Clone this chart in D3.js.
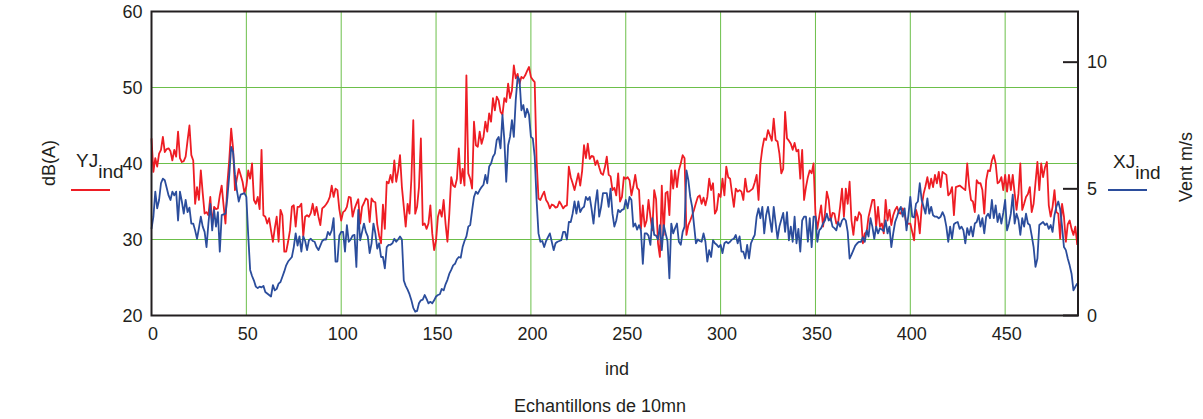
<!DOCTYPE html>
<html>
<head>
<meta charset="utf-8">
<script src="https://cdn.jsdelivr.net/npm/d3@7"></script>
<style>
  body { margin: 0; background: #fff; }
  svg { display: block; }
  text { font-family: "Liberation Sans", Arial, Helvetica, sans-serif; fill: #231f20; }
</style>
</head>
<body>
<svg id="chart" width="1203" height="419"></svg>
<script>
// Noise level per 10-minute sample, dB(A) (left axis)
const noiseLevel = [
  43.3,38.9,40.7,39.6,41.3,41.8,43.5,41.5,41.9,42.0,
  41.6,40.4,41.8,40.9,44.2,40.7,40.2,40.3,40.9,43.0,
  45.0,41.1,40.4,34.7,36.9,35.2,39.1,36.1,33.4,33.6,
  33.2,35.6,31.9,34.3,34.0,34.1,35.8,37.1,34.5,32.1,
  37.4,40.5,44.6,42.0,36.5,38.0,39.3,38.5,37.6,36.1,
  37.0,39.1,38.0,40.0,35.2,34.7,35.6,34.0,41.8,33.2,
  33.0,32.1,32.8,31.2,29.7,31.5,33.0,29.7,33.9,33.2,
  28.4,28.4,29.7,31.2,34.3,34.5,31.7,34.3,34.3,34.7,
  30.4,33.0,33.2,33.0,33.5,34.7,33.2,34.3,33.0,31.9,
  34.1,34.3,34.6,35.0,35.6,37.1,35.6,36.7,36.5,34.0,
  32.5,33.6,33.8,34.3,35.6,35.5,33.0,34.0,34.7,35.3,
  32.1,34.3,34.8,35.4,35.2,32.3,35.4,35.0,34.9,32.0,
  30.5,29.5,34.6,31.4,37.6,37.4,38.5,37.5,40.4,37.6,
  39.0,41.1,36.9,34.3,31.7,34.7,33.4,38.0,45.7,33.4,
  34.3,36.9,43.3,31.9,32.1,31.4,32.1,34.5,30.8,28.6,
  29.9,33.0,33.9,33.0,35.2,32.1,29.7,33.4,38.2,37.1,
  36.9,38.0,42.0,37.4,39.3,37.1,51.6,38.7,38.0,36.7,
  45.5,42.4,42.2,44.2,42.6,43.5,45.5,44.2,46.6,45.5,
  48.6,47.0,48.8,48.3,46.8,46.4,48.6,48.1,50.5,48.6,
  49.6,52.9,51.2,51.8,50.5,51.4,51.2,51.6,52.2,52.7,
  51.4,51.0,50.7,40.4,35.4,35.2,35.8,36.3,35.2,34.8,
  34.1,34.6,34.5,34.2,34.3,35.0,34.6,34.1,34.4,34.5,
  39.6,38.2,37.4,36.5,37.6,38.7,37.1,39.0,42.4,40.7,
  42.6,40.6,41.0,40.9,39.8,40.4,39.5,38.7,38.5,39.5,
  40.9,38.5,38.3,36.5,36.8,35.8,38.7,35.0,35.6,38.2,
  38.0,38.2,37.8,35.8,37.0,38.5,36.8,36.5,31.4,34.5,
  31.7,32.5,35.2,33.0,31.2,36.5,35.3,29.5,27.7,37.1,
  30.6,36.1,36.3,33.2,39.1,36.7,39.1,36.9,39.1,40.0,
  41.1,40.7,30.6,31.9,32.5,33.2,33.9,34.8,35.6,35.8,
  34.7,35.5,34.5,35.6,38.0,36.5,37.4,33.4,33.9,36.0,
  35.6,38.0,35.8,39.6,38.2,38.0,36.1,34.3,36.7,36.3,
  36.5,36.3,35.2,38.0,36.3,36.3,36.5,36.7,37.5,38.5,
  35.2,40.0,42.0,43.3,43.1,44.4,43.7,43.0,45.9,43.1,
  42.9,41.3,38.7,39.3,46.8,43.3,43.0,42.6,41.8,42.7,
  41.6,41.8,38.0,41.8,35.2,36.9,38.2,39.1,38.7,40.0,
  33.4,31.4,33.0,34.5,31.7,33.4,36.3,35.2,32.5,33.5,
  33.4,32.1,32.3,34.3,36.7,33.0,36.7,34.7,37.6,32.5,
  30.6,33.0,32.5,33.6,33.2,29.5,30.8,31.0,33.0,34.1,
  35.2,35.2,31.7,34.3,31.7,32.1,30.8,35.2,32.5,33.9,
  31.9,33.2,33.9,34.3,33.5,33.4,34.1,33.4,31.9,32.1,
  32.1,31.0,29.9,33.9,33.0,30.8,34.3,36.0,37.0,38.2,
  36.7,38.0,36.9,38.5,37.4,38.9,36.9,38.9,38.7,38.5,
  35.8,36.1,36.9,33.2,36.9,37.0,37.1,36.9,36.7,36.5,
  40.0,37.1,35.2,35.0,33.6,37.8,37.4,37.4,36.5,33.4,
  37.8,39.1,39.0,40.4,41.1,40.0,37.4,37.6,38.2,36.5,
  38.5,36.3,38.5,36.5,38.5,36.1,33.9,36.0,40.0,33.9,
  34.7,35.6,36.0,36.9,33.6,34.7,37.5,40.2,36.5,40.0,
  38.2,39.5,40.2,34.5,33.0,34.3,36.5,33.6,33.4,30.1,
  34.7,33.0,29.7,32.0,32.5,31.4,30.6,31.7,29.3
];

// Wind speed per 10-minute sample, m/s (right axis)
const windSpeed = [
  3.42,3.90,4.89,4.23,4.56,5.22,5.40,5.34,5.04,4.74,
  4.56,4.89,4.74,4.89,3.75,4.89,4.50,4.02,4.56,4.08,
  4.26,3.63,3.63,3.36,3.03,3.45,3.90,3.51,3.30,2.70,
  3.63,4.41,3.36,4.17,3.51,4.08,2.52,3.96,3.99,4.02,
  4.65,5.55,6.66,6.45,5.55,4.95,4.50,4.77,4.80,4.83,
  4.68,3.15,1.80,1.56,1.38,1.14,1.08,1.14,1.11,1.17,
  0.93,0.87,0.81,0.75,1.20,0.99,1.05,1.26,1.32,1.53,
  1.74,1.98,2.13,2.22,2.31,2.70,3.24,2.76,3.12,2.52,
  3.12,2.94,2.58,2.97,3.03,2.94,2.91,2.70,2.58,2.76,
  2.94,3.00,3.00,3.30,3.18,3.36,3.84,2.13,2.13,3.15,
  3.30,3.30,2.52,3.57,2.91,3.00,3.15,3.18,1.92,4.17,
  2.97,3.30,3.63,3.30,3.12,2.46,2.85,3.63,3.24,2.64,
  2.85,2.31,2.31,1.86,2.70,2.79,2.79,2.85,3.03,2.91,
  3.00,3.12,3.00,1.38,1.17,1.02,0.84,0.60,0.30,0.15,
  0.18,0.48,0.60,0.63,0.81,0.66,0.48,0.54,0.48,0.60,
  0.75,0.81,0.84,1.05,0.99,1.23,1.41,1.65,1.80,1.98,
  2.04,2.22,2.31,2.28,2.70,2.94,3.12,3.51,3.57,4.14,
  4.68,4.89,4.80,4.95,5.07,5.16,5.55,5.22,5.88,6.00,
  6.27,6.39,6.93,7.05,6.60,7.92,6.93,5.28,6.72,7.05,
  7.71,7.05,8.49,9.42,9.30,8.10,8.31,7.83,8.16,7.92,
  7.05,6.99,6.27,4.56,3.24,2.91,2.94,2.70,2.94,3.09,
  3.24,2.91,2.58,2.85,2.91,2.94,2.97,3.30,3.30,3.00,
  3.69,3.69,4.02,4.50,4.02,4.50,4.08,4.23,4.29,4.68,
  4.56,4.68,4.20,3.63,4.41,4.95,3.90,4.29,4.83,4.83,
  4.83,4.29,5.01,4.02,3.51,3.75,4.17,4.08,4.17,4.20,
  4.56,4.23,4.68,4.56,3.51,3.63,3.39,3.57,3.36,2.04,
  3.24,3.24,3.15,2.79,3.84,3.18,3.15,3.00,3.57,2.58,
  3.57,3.24,2.94,1.47,3.63,3.24,3.45,3.63,2.91,2.79,
  3.30,3.51,5.73,5.34,4.68,4.29,3.57,2.85,3.00,2.94,
  2.91,3.24,2.91,2.13,2.58,2.31,2.97,2.85,2.79,2.70,
  2.79,2.46,2.85,2.91,2.85,2.91,3.00,3.03,3.18,2.85,
  3.12,2.52,2.52,2.25,2.79,2.25,2.85,3.03,3.18,3.90,
  4.23,3.84,4.29,3.24,3.96,4.29,3.78,3.30,4.29,3.66,
  3.03,3.51,3.78,4.05,3.30,4.08,2.97,3.51,2.91,3.90,
  2.85,3.42,2.52,3.75,3.90,3.90,2.91,3.84,2.70,3.90,
  3.90,2.91,3.36,3.45,3.63,3.75,4.02,3.75,3.84,3.51,
  3.45,3.36,3.69,3.51,3.75,3.84,3.75,3.30,2.25,2.40,
  2.58,2.76,2.85,2.91,2.91,3.09,2.91,3.36,3.12,3.84,
  3.51,3.03,3.51,3.24,3.45,3.39,3.33,3.75,3.24,3.51,
  2.70,3.24,3.69,3.90,4.14,4.29,3.90,4.23,3.36,3.96,
  4.68,3.90,3.87,4.41,4.50,5.22,4.56,4.29,4.02,4.62,
  4.02,4.29,3.96,3.90,3.90,3.84,3.90,4.08,3.90,3.51,
  2.91,3.51,3.03,3.60,3.66,3.69,3.42,3.51,3.36,2.85,
  3.45,3.18,3.51,3.12,3.63,3.69,3.96,3.51,3.84,3.24,
  3.90,4.02,3.84,4.56,3.84,4.35,3.69,4.02,3.63,4.05,
  4.56,3.36,3.63,4.02,4.77,3.63,4.02,3.78,3.18,3.84,
  3.51,4.02,3.63,3.57,3.15,2.70,1.92,2.25,3.57,3.63,
  3.69,3.57,3.63,3.42,3.57,3.30,3.96,4.29,4.50,4.20,
  3.51,2.70,2.58,2.25,1.98,1.65,0.99,1.14,1.26
];

const xTicks = [0, 50, 100, 150, 200, 250, 300, 350, 400, 450];
const dbTicks = [20, 30, 40, 50, 60];
const windTicks = [0, 5, 10];

const svg = d3.select("#chart");
const plot = { left: 151.5, right: 1078, top: 11.5, bottom: 315.5 };

const x = d3.scaleLinear().domain([0, 488.4]).range([plot.left, plot.right]);
const yDb = d3.scaleLinear().domain([20, 60]).range([plot.bottom, plot.top]);
const yWind = d3.scaleLinear().domain([0, 12]).range([plot.bottom, plot.top]);

const gridColor = "#6cbf4a";
const frameColor = "#231f20";
const labelFont = "'Liberation Sans', Arial, sans-serif";

// Grid
const grid = svg.append("g");
grid.selectAll("line.gx")
  .data(xTicks.filter(d => d > 0))
  .join("line")
  .attr("x1", d => x(d)).attr("x2", d => x(d))
  .attr("y1", plot.top).attr("y2", plot.bottom)
  .attr("stroke", gridColor).attr("stroke-width", 1);
grid.selectAll("line.gy")
  .data(dbTicks.filter(d => d > 20 && d < 60))
  .join("line")
  .attr("x1", plot.left).attr("x2", plot.right)
  .attr("y1", d => yDb(d)).attr("y2", d => yDb(d))
  .attr("stroke", gridColor).attr("stroke-width", 1);

// Series
const windLine = d3.line().x((d, i) => x(i)).y(d => yWind(d));
const noiseLine = d3.line().x((d, i) => x(i)).y(d => yDb(d));

svg.append("path")
  .datum(noiseLevel)
  .attr("d", noiseLine)
  .attr("fill", "none")
  .attr("stroke", "#ee1d24")
  .attr("stroke-width", 1.8)
  .attr("stroke-linejoin", "round");

svg.append("path")
  .datum(windSpeed)
  .attr("d", windLine)
  .attr("fill", "none")
  .attr("stroke", "#2b4d9c")
  .attr("stroke-width", 1.8)
  .attr("stroke-linejoin", "round");

// Frame
svg.append("rect")
  .attr("x", plot.left).attr("y", plot.top)
  .attr("width", plot.right - plot.left).attr("height", plot.bottom - plot.top)
  .attr("fill", "none").attr("stroke", frameColor).attr("stroke-width", 2);

// Bottom axis labels
const xAxis = d3.axisBottom(x).tickValues(xTicks).tickSize(0).tickPadding(12);
const gx = svg.append("g").attr("transform", `translate(1,${plot.bottom})`).call(xAxis);
gx.select(".domain").remove();
gx.selectAll("text").attr("font-size", 18).style("font-family", labelFont).attr("fill", "#231f20");

// Left axis labels
const yAxisL = d3.axisLeft(yDb).tickValues(dbTicks).tickSize(0).tickPadding(9);
const gl = svg.append("g").attr("transform", `translate(${plot.left},0)`).call(yAxisL);
gl.select(".domain").remove();
gl.selectAll("text").attr("font-size", 18).style("font-family", labelFont).attr("fill", "#231f20");

// Right axis with inward ticks
const yAxisR = d3.axisRight(yWind).tickValues(windTicks).tickSize(0).tickPadding(9);
const gr = svg.append("g").attr("transform", `translate(${plot.right},0)`).call(yAxisR);
gr.select(".domain").remove();
gr.selectAll("text").attr("font-size", 18).style("font-family", labelFont).attr("fill", "#231f20");
svg.append("g").selectAll("line")
  .data(windTicks)
  .join("line")
  .attr("x1", plot.right - 15).attr("x2", plot.right)
  .attr("y1", d => yWind(d)).attr("y2", d => yWind(d))
  .attr("stroke", frameColor).attr("stroke-width", 2);

// Axis titles
svg.append("text")
  .attr("x", 617).attr("y", 375)
  .attr("text-anchor", "middle").attr("font-size", 18)
  .text("ind");
svg.append("text")
  .attr("x", 600).attr("y", 412)
  .attr("text-anchor", "middle").attr("font-size", 18)
  .text("Echantillons de 10mn");
svg.append("text")
  .attr("transform", "translate(55,163) rotate(-90)")
  .attr("text-anchor", "middle").attr("font-size", 18)
  .text("dB(A)");
svg.append("text")
  .attr("transform", "translate(1192,167) rotate(-90)")
  .attr("text-anchor", "middle").attr("font-size", 18)
  .text("Vent m/s");

// Trace legends
function legend(x0, baseline, name, color, lineX1, lineX2, lineY) {
  const t = svg.append("text").attr("x", x0).attr("y", baseline).attr("font-size", 19);
  t.append("tspan").text(name);
  t.append("tspan").attr("dy", 11).text("ind");
  svg.append("line")
    .attr("x1", lineX1).attr("x2", lineX2)
    .attr("y1", lineY).attr("y2", lineY)
    .attr("stroke", color).attr("stroke-width", 2);
}
legend(76, 167, "YJ", "#ee1d24", 71, 110, 190);
legend(1113, 168, "XJ", "#2b4d9c", 1108, 1147, 190);
</script>
</body>
</html>
